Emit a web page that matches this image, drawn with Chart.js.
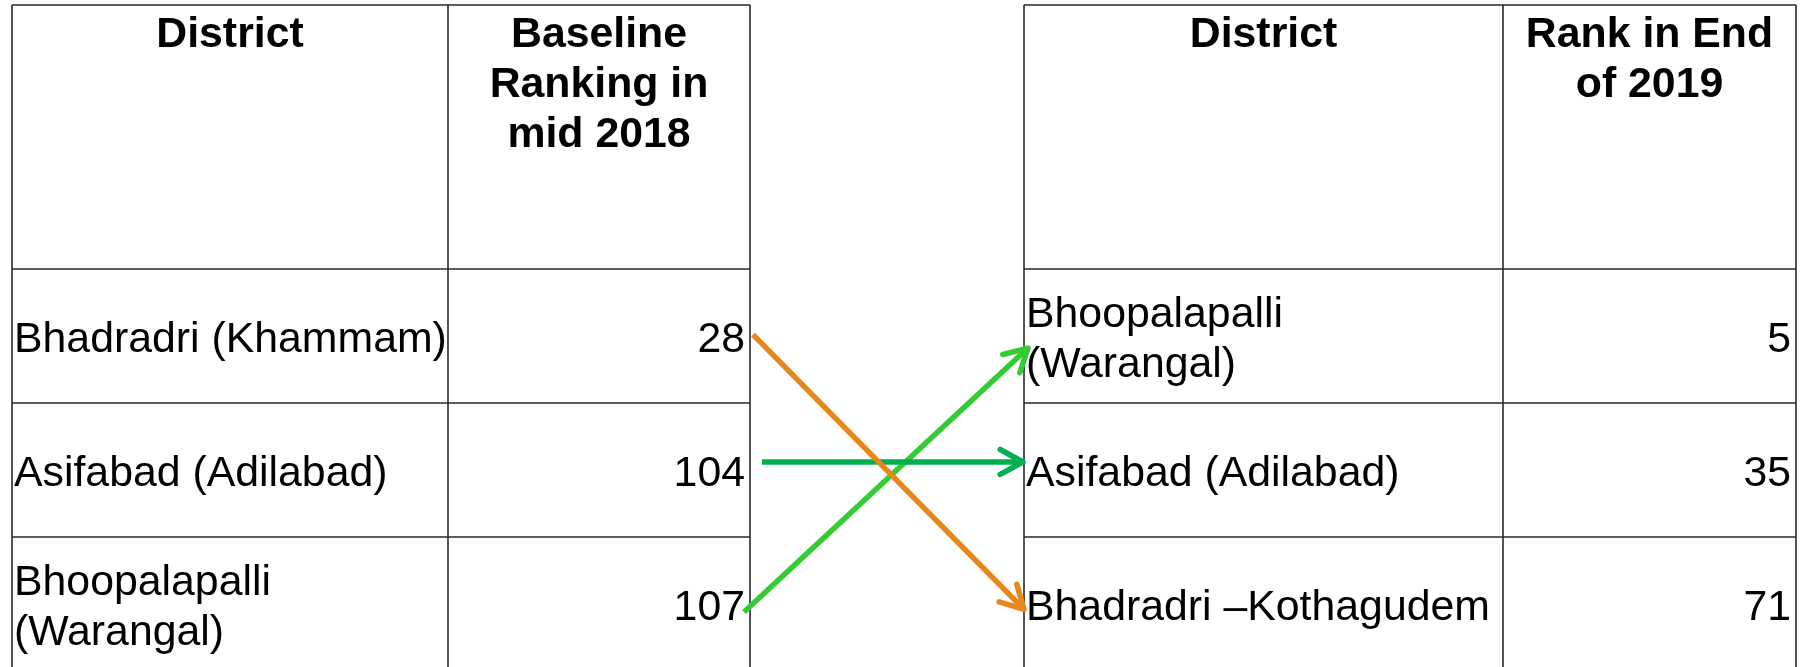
<!DOCTYPE html>
<html lang="en">
<head>
  <meta charset="UTF-8">
  <title>District ranking: mid 2018 vs end of 2019</title>
  <script src="https://cdn.jsdelivr.net/npm/chart.js"></script>
  <style>
    html, body { margin: 0; padding: 0; background: #fff; overflow: hidden; }
    #wrap { width: 1818px; height: 667px; }
  </style>
</head>
<body>
  <div id="wrap"><canvas id="myChart" width="1818" height="667"></canvas></div>

<script>
  // table contents
  const leftHeaders = [['District'], ['Baseline', 'Ranking in', 'mid 2018']];
  const baselineDistricts = [['Bhadradri (Khammam)'], ['Asifabad (Adilabad)'], ['Bhoopalapalli', '(Warangal)']];
  const baselineRanks = [28, 104, 107];

  const rightHeaders = [['District'], ['Rank in End', 'of 2019']];
  const endDistricts = [['Bhoopalapalli', '(Warangal)'], ['Asifabad (Adilabad)'], ['Bhadradri \u2013Kothagudem']];
  const endRanks = [5, 35, 71];

  // arrows: row in the baseline table -> row in the 2019 table
  const arrowFrom = [0, 1, 2];
  const arrowTo = [2, 1, 0];

  // layout / styling (x in scale units, y in row units)
  const leftCols = [12, 448, 750];
  const rightCols = [1024, 1503, 1796];
  const headerRows = 1.97;
  const bottomRows = 2.97;
  const arrowColors = ['#E8861A', '#00B050', '#33CC33'];
  const arrowDx = [[3, 0], [12, -1], [-6, 4]];
  const arrowDy = [[-0.01, 0.04], [-0.06, -0.06], [0.06, 0.09]];
  const FONT = '"Liberation Sans", Arial, sans-serif';
  const ARROW_W = 5.5;

  const datasets = arrowFrom.map((r, i) => ({
    type: 'line',
    data: [
      { x: leftCols[2] + arrowDx[i][0], y: r + 0.5 + arrowDy[i][0] },
      { x: rightCols[0] + arrowDx[i][1], y: arrowTo[i] + 0.5 + arrowDy[i][1] }
    ],
    borderColor: arrowColors[i],
    borderWidth: ARROW_W,
    pointRadius: 0,
    tension: 0
  }));

  const tablePlugin = {
    id: 'tables',
    beforeDatasetsDraw(chart) {
      const ctx = chart.ctx;
      const xs = chart.scales.x, ys = chart.scales.y;
      const px = v => xs.getPixelForValue(v);
      const py = v => ys.getPixelForValue(v);
      const top = py(-headerRows), bottom = py(3);

      function grid(cols) {
        ctx.save();
        ctx.strokeStyle = '#2a2a2a';
        ctx.lineWidth = 1.6;
        ctx.beginPath();
        cols.forEach(c => { ctx.moveTo(px(c), top); ctx.lineTo(px(c), bottom); });
        [-headerRows, 0, 1, 2, 3].forEach(r => {
          ctx.moveTo(px(cols[0]), py(r)); ctx.lineTo(px(cols[2]), py(r));
        });
        ctx.stroke();
        ctx.restore();
      }

      function lines(arr, x, center, align) {
        ctx.textAlign = align;
        arr.forEach((t, i) => {
          ctx.fillText(t, x, center + 16 + (i - (arr.length - 1) / 2) * 50);
        });
      }

      function table(cols, headers, names, ranks) {
        grid(cols);
        ctx.save();
        ctx.fillStyle = '#000';
        ctx.textBaseline = 'alphabetic';
        ctx.font = 'bold 42.8px ' + FONT;
        headers.forEach((h, c) => {
          ctx.textAlign = 'center';
          const cx = (px(cols[c]) + px(cols[c + 1])) / 2;
          h.forEach((t, i) => ctx.fillText(t, cx, top + 42 + i * 50));
        });
        ctx.font = '42.8px ' + FONT;
        names.forEach((n, r) => {
          const cy = py(r + 0.5);
          lines(n, px(cols[0]) + 2, cy, 'left');
          lines([String(ranks[r])], px(cols[2]) - 5, cy, 'right');
        });
        ctx.restore();
      }

      table(leftCols, leftHeaders, baselineDistricts, baselineRanks);
      table(rightCols, rightHeaders, endDistricts, endRanks);
    },
    afterDatasetsDraw(chart) {
      // open arrow heads at the end of each line
      const ctx = chart.ctx;
      chart.data.datasets.forEach((ds, i) => {
        const pts = chart.getDatasetMeta(i).data;
        const a = pts[0], b = pts[pts.length - 1];
        const ang = Math.atan2(b.y - a.y, b.x - a.x);
        const len = 26, spread = 0.5;
        ctx.save();
        ctx.strokeStyle = ds.borderColor;
        ctx.lineWidth = ARROW_W;
        ctx.lineCap = 'round';
        ctx.lineJoin = 'round';
        ctx.beginPath();
        ctx.moveTo(b.x - len * Math.cos(ang - spread), b.y - len * Math.sin(ang - spread));
        ctx.lineTo(b.x, b.y);
        ctx.lineTo(b.x - len * Math.cos(ang + spread), b.y - len * Math.sin(ang + spread));
        ctx.stroke();
        ctx.restore();
      });
    }
  };

  new Chart(document.getElementById('myChart'), {
    type: 'line',
    data: { datasets: datasets },
    options: {
      responsive: false,
      animation: false,
      devicePixelRatio: 1,
      layout: { padding: { top: 5, bottom: 0, left: 0, right: 0 } },
      plugins: { legend: { display: false }, tooltip: { enabled: false } },
      scales: {
        x: { type: 'linear', min: 0, max: 1818, display: false },
        y: { type: 'linear', min: -headerRows, max: bottomRows, reverse: true, display: false }
      }
    },
    plugins: [tablePlugin]
  });
</script>
</body>
</html>
